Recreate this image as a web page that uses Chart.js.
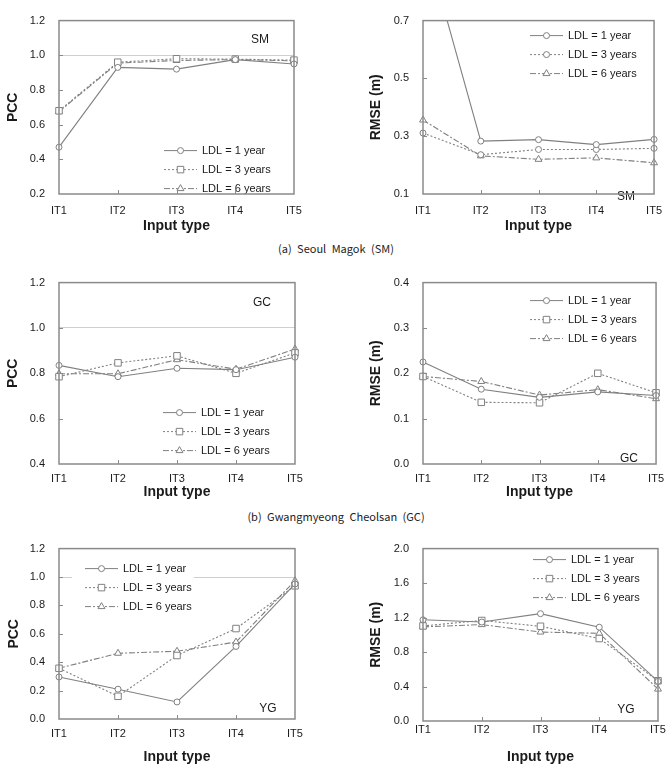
<!DOCTYPE html>
<html>
<head>
<meta charset="utf-8">
<script src="https://cdn.jsdelivr.net/npm/chart.js@4/dist/chart.umd.min.js"></script>
<style>
  body { margin: 0; background: #fff; }
  #wrap { position: relative; width: 672px; height: 773px; overflow: hidden; }
  canvas { position: absolute; }
  .cap { position: absolute; left: 0; width: 672px; text-align: center; font: 11px "Noto Sans CJK KR", "Noto Sans", sans-serif; word-spacing: 3px; color: #222; }
</style>
</head>
<body>
<div id="wrap">
  <canvas id="c1" width="336" height="235" style="left:0;top:0"></canvas>
  <canvas id="c2" width="336" height="235" style="left:336px;top:0"></canvas>
  <div class="cap" style="top:240px">(a) Seoul Magok (SM)</div>
  <canvas id="c3" width="336" height="239" style="left:0;top:262px"></canvas>
  <canvas id="c4" width="336" height="239" style="left:336px;top:262px"></canvas>
  <div class="cap" style="top:508px">(b) Gwangmyeong Cheolsan (GC)</div>
  <canvas id="c5" width="336" height="238" style="left:0;top:528px"></canvas>
  <canvas id="c6" width="336" height="238" style="left:336px;top:528px"></canvas>
</div>
<script>
// categories
const inputTypes = ['IT1', 'IT2', 'IT3', 'IT4', 'IT5'];
const ldlLabels = ['LDL = 1 year', 'LDL = 3 years', 'LDL = 6 years'];

// (a) Seoul Magok
const smPcc1 = [0.47, 0.93, 0.92, 0.975, 0.95];
const smPcc3 = [0.68, 0.96, 0.98, 0.978, 0.972];
const smPcc6 = [0.675, 0.955, 0.97, 0.975, 0.968];
const smRmse1 = [1.0, 0.283, 0.288, 0.271, 0.289];
const smRmse3 = [0.311, 0.236, 0.254, 0.254, 0.258];
const smRmse6 = [0.356, 0.232, 0.220, 0.225, 0.208];

// (b) Gwangmyeong Cheolsan
const gcPcc1 = [0.835, 0.785, 0.822, 0.816, 0.871];
const gcPcc3 = [0.785, 0.846, 0.877, 0.80, 0.89];
const gcPcc6 = [0.798, 0.798, 0.86, 0.818, 0.907];
const gcRmse1 = [0.225, 0.165, 0.147, 0.159, 0.151];
const gcRmse3 = [0.193, 0.136, 0.135, 0.200, 0.157];
const gcRmse6 = [0.193, 0.182, 0.152, 0.164, 0.144];

// YG
const ygPcc1 = [0.296, 0.210, 0.120, 0.511, 0.951];
const ygPcc3 = [0.357, 0.160, 0.447, 0.637, 0.938];
const ygPcc6 = [0.357, 0.463, 0.477, 0.542, 0.974];
const ygRmse1 = [1.174, 1.148, 1.245, 1.088, 0.460];
const ygRmse3 = [1.103, 1.166, 1.099, 0.957, 0.467];
const ygRmse6 = [1.092, 1.118, 1.032, 1.017, 0.370];

// y tick labels
const smPccTicks = [0.2, 0.4, 0.6, 0.8, 1.0, 1.2];
const smRmseTicks = [0.1, 0.3, 0.5, 0.7];
const gcPccTicks = [0.4, 0.6, 0.8, 1.0, 1.2];
const gcRmseTicks = [0.0, 0.1, 0.2, 0.3, 0.4];
const ygPccTicks = [0.0, 0.2, 0.4, 0.6, 0.8, 1.0, 1.2];
const ygRmseTicks = [0.0, 0.4, 0.8, 1.2, 1.6, 2.0];

const GRAY = '#808080';
const BOX = '#8a8a8a';
const TXT = '#1a1a1a';
const FONT = '"Liberation Sans", Arial, sans-serif';

// estilos por serie
const lineStyles = [
  { dash: [], point: 'circle', r: 3 },
  { dash: [2, 2], point: 'rect', r: 4.6 },
  { dash: [6, 2, 2, 2], point: 'triangle', r: 4 }
];

// plugin: leyenda, etiqueta de sitio, ticks hacia dentro, caja
const panelDeco = {
  id: 'panelDeco',
  afterDatasetsDraw(chart) {
    const o = chart.options.plugins.panelDeco;
    const { ctx, chartArea: a } = chart;
    const xs = chart.scales.x, ys = chart.scales.y;
    ctx.save();

    // leyenda
    const lx = a.left + o.legend[0], ly = a.top + o.legend[1];
    ctx.font = '11px ' + FONT;
    const tw = Math.max(...ldlLabels.map(s => ctx.measureText(s).width));
    ctx.fillStyle = '#fff';
    ctx.fillRect(lx - 13, ly - 9, 38 + tw + 15, 19 * 2 + 18);
    ldlLabels.forEach((lab, i) => {
      const st = lineStyles[i];
      const y = ly + i * 19;
      ctx.strokeStyle = GRAY;
      ctx.lineWidth = 1;
      ctx.setLineDash(st.dash);
      ctx.beginPath(); ctx.moveTo(lx, y); ctx.lineTo(lx + 33, y); ctx.stroke();
      ctx.setLineDash([]);
      ctx.fillStyle = '#fff';
      Chart.helpers.drawPoint(ctx, { pointStyle: o.points[i], rotation: 0, radius: o.points[i] === 'rect' ? 4.6 : (o.points[i] === 'triangle' ? 4 : 3), borderWidth: 1 }, lx + 16.5, y);
      ctx.fillStyle = TXT;
      ctx.textBaseline = 'middle';
      ctx.textAlign = 'left';
      ctx.fillText(lab, lx + 38, y + 0.5);
    });

    // sitio
    ctx.font = '12px ' + FONT;
    ctx.fillStyle = TXT;
    ctx.textAlign = 'center';
    ctx.fillText(o.site, a.left + o.sitePos[0], a.top + o.sitePos[1]);

    // ticks hacia dentro
    ctx.strokeStyle = BOX;
    ctx.lineWidth = 1;
    ctx.beginPath();
    ys.ticks.forEach((t, i) => {
      if (i === 0 || i === ys.ticks.length - 1) return;
      const y = Math.round(ys.getPixelForValue(t.value)) + 0.5;
      ctx.moveTo(a.left, y); ctx.lineTo(a.left + 4, y);
    });
    for (let i = 1; i < inputTypes.length - 1; i++) {
      const x = Math.round(xs.getPixelForValue(i)) + 0.5;
      ctx.moveTo(x, a.bottom); ctx.lineTo(x, a.bottom - 4);
    }
    ctx.stroke();

    // caja
    ctx.lineWidth = 1.5;
    ctx.strokeRect(a.left, a.top, a.right - a.left, a.bottom - a.top);
    ctx.restore();
  }
};

function makePanel(id, series, ticks, yTitle, site, geo) {
  const points = geo.points || ['circle', 'rect', 'triangle'];
  const datasets = series.map((vals, i) => ({
    label: ldlLabels[i],
    data: vals,
    borderColor: GRAY,
    borderWidth: 1.1,
    borderDash: lineStyles[i].dash,
    pointStyle: points[i],
    pointRadius: points[i] === 'rect' ? 4.6 : (points[i] === 'triangle' ? 4 : 3),
    pointBorderWidth: 1,
    pointBorderColor: GRAY,
    pointBackgroundColor: '#fff',
    tension: 0,
    fill: false
  }));

  new Chart(document.getElementById(id), {
    type: 'line',
    data: { labels: inputTypes, datasets },
    options: {
      responsive: false,
      animation: false,
      devicePixelRatio: 1,
      layout: { padding: { left: geo.padL, right: geo.padR, top: geo.padT, bottom: 0 } },
      plugins: {
        legend: { display: false },
        tooltip: { enabled: false },
        panelDeco: { legend: geo.legend, site, sitePos: geo.sitePos, points }
      },
      scales: {
        x: {
          offset: false,
          grid: { display: false, drawTicks: false },
          border: { display: false },
          ticks: { color: TXT, font: { family: FONT, size: 11 }, padding: geo.xPad, maxRotation: 0 },
          title: { display: true, text: 'Input type', color: TXT, font: { family: FONT, size: 14, weight: 'bold' }, padding: 0 },
          afterFit: s => { s.height = geo.xH; }
        },
        y: {
          min: ticks[0],
          max: ticks[ticks.length - 1],
          afterBuildTicks: s => { s.ticks = ticks.map(v => ({ value: v })); },
          grid: {
            drawTicks: false,
            color: c => (c.tick && Math.abs(c.tick.value - 1.0) < 1e-6 && yTitle === 'PCC') ? '#cfcfcf' : 'rgba(0,0,0,0)',
            lineWidth: 1
          },
          border: { display: false },
          ticks: { color: TXT, font: { family: FONT, size: 11 }, padding: 14, callback: v => Number(v).toFixed(1) },
          title: { display: true, text: yTitle, color: TXT, font: { family: FONT, size: 14, weight: 'bold' }, padding: { top: geo.yTitlePad, bottom: 0 } },
          afterFit: s => { s.width = geo.yW; }
        }
      }
    },
    plugins: [panelDeco]
  });
}

makePanel('c1', [smPcc1, smPcc3, smPcc6], smPccTicks, 'PCC', 'SM',
  { padL: 0, padR: 42, padT: 12, yW: 59, xH: 41, xPad: 10, yTitlePad: 5, legend: [105, 130], sitePos: [201, 19] });
makePanel('c2', [smRmse1, smRmse3, smRmse6], smRmseTicks, 'RMSE (m)', 'SM',
  { padL: 27, padR: 14, padT: 11, yW: 60, xH: 41, xPad: 10, yTitlePad: 5, legend: [107, 15], sitePos: [203, 176], points: ['circle', 'circle', 'triangle'] });
makePanel('c3', [gcPcc1, gcPcc3, gcPcc6], gcPccTicks, 'PCC', 'GC',
  { padL: 0, padR: 41, padT: 14, yW: 59, xH: 37, xPad: 8, yTitlePad: 5, legend: [104, 130], sitePos: [203, 20] });
makePanel('c4', [gcRmse1, gcRmse3, gcRmse6], gcRmseTicks, 'RMSE (m)', 'GC',
  { padL: 27, padR: 14, padT: 14, yW: 60, xH: 37, xPad: 8, yTitlePad: 5, legend: [107, 18], sitePos: [206, 176] });
makePanel('c5', [ygPcc1, ygPcc3, ygPcc6], ygPccTicks, 'PCC', 'YG',
  { padL: 0, padR: 41, padT: 14, yW: 59, xH: 47, xPad: 8, yTitlePad: 6, legend: [26, 20], sitePos: [209, 160] });
makePanel('c6', [ygRmse1, ygRmse3, ygRmse6], ygRmseTicks, 'RMSE (m)', 'YG',
  { padL: 27, padR: 14, padT: 14, yW: 60, xH: 45, xPad: 2, yTitlePad: 5, legend: [110, 11], sitePos: [203, 161] });
</script>
</body>
</html>
